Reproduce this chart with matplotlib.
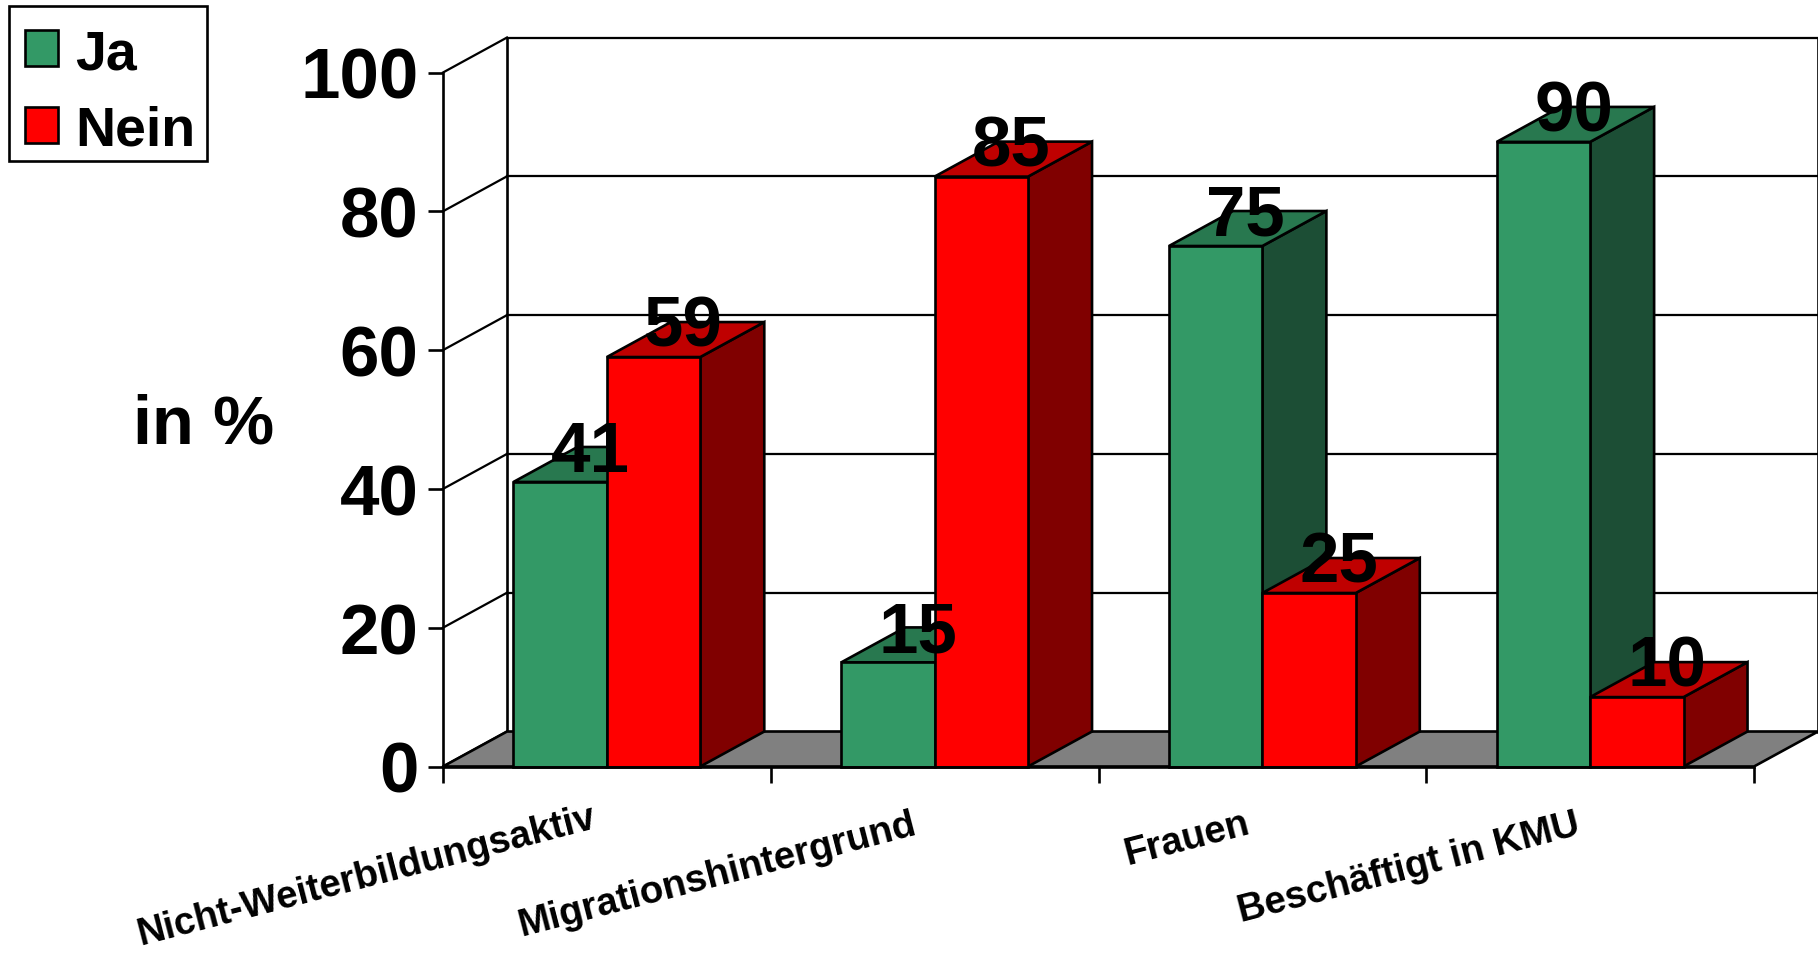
import matplotlib
matplotlib.use("Agg")
import matplotlib.pyplot as plt
from matplotlib.patches import Patch, Polygon, Rectangle

plt.rcParams['font.family'] = ['Liberation Sans', 'DejaVu Sans']
plt.rcParams['font.weight'] = 'bold'

categories = ['Nicht-Weiterbildungsaktiv', 'Migrationshintergrund', 'Frauen', 'Beschäftigt in KMU']
ja = [41, 15, 75, 90]
nein = [59, 85, 25, 10]
yticks = [0, 20, 40, 60, 80, 100]

# fake 3d look: depth of the box in data units
depth_x = 64 / 327.75
depth_y = 5.04
bar_w = 0.285
lw = 1.9

# colours: front, top, side
green = ('#339966', '#28784f', '#1c4e35')
red = ('#ff0000', '#bf0000', '#800000')

# pixel offsets of the slanted labels from the group centre
label_off = [(-240, -109), (-217, -108), (-76, -71.5), (-181, -101)]

W, H = 1818, 954
fig = plt.figure(figsize=(W / 100, H / 100), dpi=100)
ax = fig.add_axes([443 / W, 1 - 767.5 / H, (1754 - 443) / W, (767.5 - 73.5) / H])
ax.set_xlim(0, 4)
ax.set_ylim(0, 100)


def poly(pts, color, z):
    ax.add_patch(Polygon(pts, closed=True, facecolor=color, edgecolor='black',
                         linewidth=lw, joinstyle='miter', clip_on=False, zorder=z))


# floor
poly([(0, 0), (4, 0), (4 + depth_x, depth_y), (depth_x, depth_y)], '#808080', 2)

# back wall + left wall lines
for y in yticks:
    ax.plot([0, depth_x], [y, y + depth_y], color='black', lw=lw * 0.85, clip_on=False, zorder=1)
    ax.plot([depth_x, 4 + depth_x], [y + depth_y, y + depth_y], color='black', lw=lw * 0.85,
            clip_on=False, zorder=1)
ax.plot([depth_x, depth_x], [depth_y, 100 + depth_y], color='black', lw=lw, clip_on=False, zorder=1)
ax.plot([4 + depth_x, 4 + depth_x], [depth_y, 100 + depth_y], color='black', lw=lw, clip_on=False, zorder=1)


def bar3d(x0, val, cols, z):
    x1 = x0 + bar_w
    poly([(x1, 0), (x1 + depth_x, depth_y), (x1 + depth_x, val + depth_y), (x1, val)], cols[2], z)
    poly([(x0, val), (x1, val), (x1 + depth_x, val + depth_y), (x0 + depth_x, val + depth_y)], cols[1], z)
    poly([(x0, 0), (x1, 0), (x1, val), (x0, val)], cols[0], z)


for i in range(4):
    c = i + 0.5
    bar3d(c - bar_w, ja[i], green, 3 + 2 * i)
    bar3d(c, nein[i], red, 4 + 2 * i)

for i in range(4):
    c = i + 0.5
    ax.text(c - bar_w / 2 + depth_x * 0.47, ja[i] + depth_y * 0.84, str(ja[i]), fontsize=51,
            ha='center', va='center', zorder=20, clip_on=False)
    ax.text(c + bar_w / 2 + depth_x * 0.47, nein[i] + depth_y * 0.84, str(nein[i]), fontsize=51,
            ha='center', va='center', zorder=20, clip_on=False)
    ax.annotate(categories[i], xy=(c, 0), xytext=label_off[i], textcoords='offset pixels',
                fontsize=27.6, rotation=14.5, ha='center', va='center', annotation_clip=False)

ax.spines['top'].set_visible(False)
ax.spines['right'].set_visible(False)
for s in ['left', 'bottom']:
    ax.spines[s].set_linewidth(lw)
    ax.spines[s].set_zorder(15)
ax.set_xticks(range(5))
ax.set_xticklabels([])
ax.set_yticks(yticks)
ax.tick_params(axis='x', length=11.5, width=lw)
ax.tick_params(axis='y', length=10.8, width=lw, labelsize=51, pad=7)
ax.patch.set_alpha(0)

fig.text(204 / W, 1 - 426 / H, 'in %', fontsize=49.5, ha='center', va='center')

# legend box drawn on its own so its size can follow the picture exactly
fig.add_artist(Rectangle((9 / W, 1 - 162 / H), 198 / W, 155 / H, transform=fig.transFigure,
                         facecolor='white', edgecolor='black', linewidth=lw))
handles = [Patch(facecolor=green[0], edgecolor='black', linewidth=lw, label='Ja'),
           Patch(facecolor=red[0], edgecolor='black', linewidth=lw, label='Nein')]
fig.legend(handles=handles, loc='upper left', bbox_to_anchor=(25 / W, 1 - 29 / H),
           bbox_transform=fig.transFigure, fontsize=40, frameon=False,
           borderaxespad=0, borderpad=0, handlelength=0.6, handleheight=0.62,
           handletextpad=0.3, labelspacing=0.44)

fig.savefig('out.png', dpi=100)
